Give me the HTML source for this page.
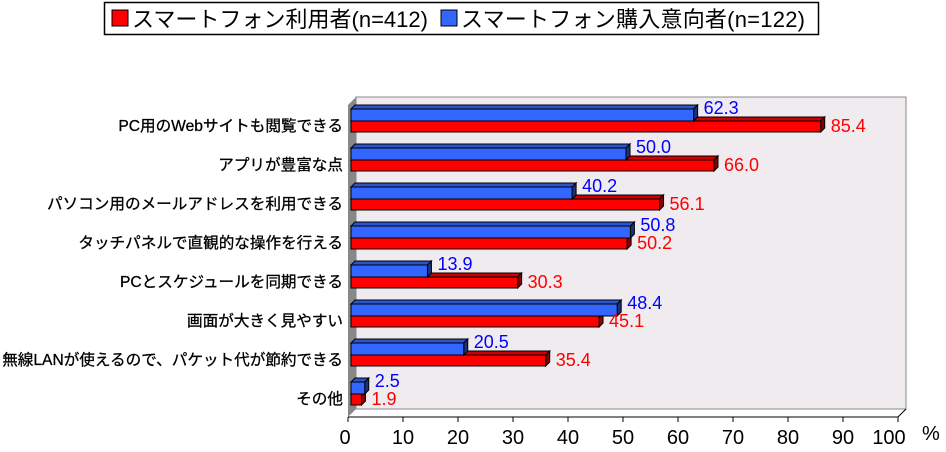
<!DOCTYPE html>
<html><head><meta charset="utf-8"><style>
body{margin:0;background:#fff}
svg text{font-family:"Liberation Sans","Noto Sans CJK JP",sans-serif}
</style></head><body>
<svg width="946" height="447" viewBox="0 0 946 447" xmlns="http://www.w3.org/2000/svg">
<rect x="104.5" y="2.5" width="714" height="32" fill="#fff" stroke="#000" stroke-width="1.5"/>
<rect x="112" y="10" width="16" height="16" fill="#f00" stroke="#000"/>
<text x="132" y="27" font-size="22" textLength="296">スマートフォン利用者(n=412)</text>
<rect x="441" y="10" width="16" height="16" fill="#3366ff" stroke="#000"/>
<text x="461" y="27" font-size="22" textLength="344">スマートフォン購入意向者(n=122)</text>
<polygon points="356,97 906,97 906,409 356,409" fill="#efebef" stroke="#888"/>
<polygon points="348,105 356,97 356,409 348,417" fill="#888"/>
<line x1="348" y1="417" x2="898" y2="417" stroke="#000"/>
<line x1="898" y1="417" x2="906" y2="409" stroke="#000"/>
<g stroke="#000">
<line x1="348" y1="417" x2="348" y2="422"/><line x1="403" y1="417" x2="403" y2="422"/><line x1="458" y1="417" x2="458" y2="422"/><line x1="513" y1="417" x2="513" y2="422"/><line x1="568" y1="417" x2="568" y2="422"/><line x1="623" y1="417" x2="623" y2="422"/><line x1="678" y1="417" x2="678" y2="422"/><line x1="733" y1="417" x2="733" y2="422"/><line x1="788" y1="417" x2="788" y2="422"/><line x1="843" y1="417" x2="843" y2="422"/><line x1="898" y1="417" x2="898" y2="422"/>
</g>
<g font-size="20" text-anchor="middle">
<text x="345" y="444">0</text><text x="403" y="444">10</text><text x="458" y="444">20</text><text x="513" y="444">30</text><text x="568" y="444">40</text><text x="623" y="444">50</text><text x="678" y="444">60</text><text x="733" y="444">70</text><text x="788" y="444">80</text><text x="843" y="444">90</text><text x="889" y="444">100</text>
</g>
<text x="922" y="440" font-size="20">%</text>
<g id="bars"></g>
<g font-size="15.6" text-anchor="end" stroke="#000" stroke-width="0.3" id="cats"></g>
</svg>
<script>
var cats=["PC用のWebサイトも閲覧できる","アプリが豊富な点","パソコン用のメールアドレスを利用できる","タッチパネルで直観的な操作を行える","PCとスケジュールを同期できる","画面が大きく見やすい","無線LANが使えるので、パケット代が節約できる","その他"];
var red=[85.4,66.0,56.1,50.2,30.3,45.1,35.4,1.9];
var blue=[62.3,50.0,40.2,50.8,13.9,48.4,20.5,2.5];
var s="",c="";
function bar(x0,y,h,v,col,dark,top){
 var x1=351+v*5.5; var d=4;
 return '<polygon points="'+x0+','+y+' '+(x0+d)+','+(y-d)+' '+(x1+d)+','+(y-d)+' '+x1+','+y+'" fill="'+top+'" stroke="#000" stroke-width="1"/>'+
 '<polygon points="'+x1+','+y+' '+(x1+d)+','+(y-d)+' '+(x1+d)+','+(y+h-d)+' '+x1+','+(y+h)+'" fill="'+dark+'" stroke="#000" stroke-width="1"/>'+
 '<rect x="'+x0+'" y="'+y+'" width="'+(x1-x0)+'" height="'+h+'" fill="'+col+'" stroke="#000" stroke-width="1"/>';
}
for(var i=0;i<8;i++){
 var y0=109+39*i;
 s+=bar(351,y0+12,11,red[i],"#f00","#800","#c00");
 s+=bar(351,y0,12,blue[i],"#3366ff","#1a337f","#2a55cc");
 s+='<text x="'+(351+blue[i]*5.5+10)+'" y="'+(y0+5)+'" font-size="18" fill="#00f">'+blue[i].toFixed(1)+'</text>';
 s+='<text x="'+(351+red[i]*5.5+10)+'" y="'+(y0+23)+'" font-size="18" fill="#f00">'+red[i].toFixed(1)+'</text>';
 c+='<text x="343" y="'+(y0+22)+'">'+cats[i]+'</text>';
}
document.getElementById("bars").innerHTML=s;
document.getElementById("cats").innerHTML=c;
</script>
</body></html>
